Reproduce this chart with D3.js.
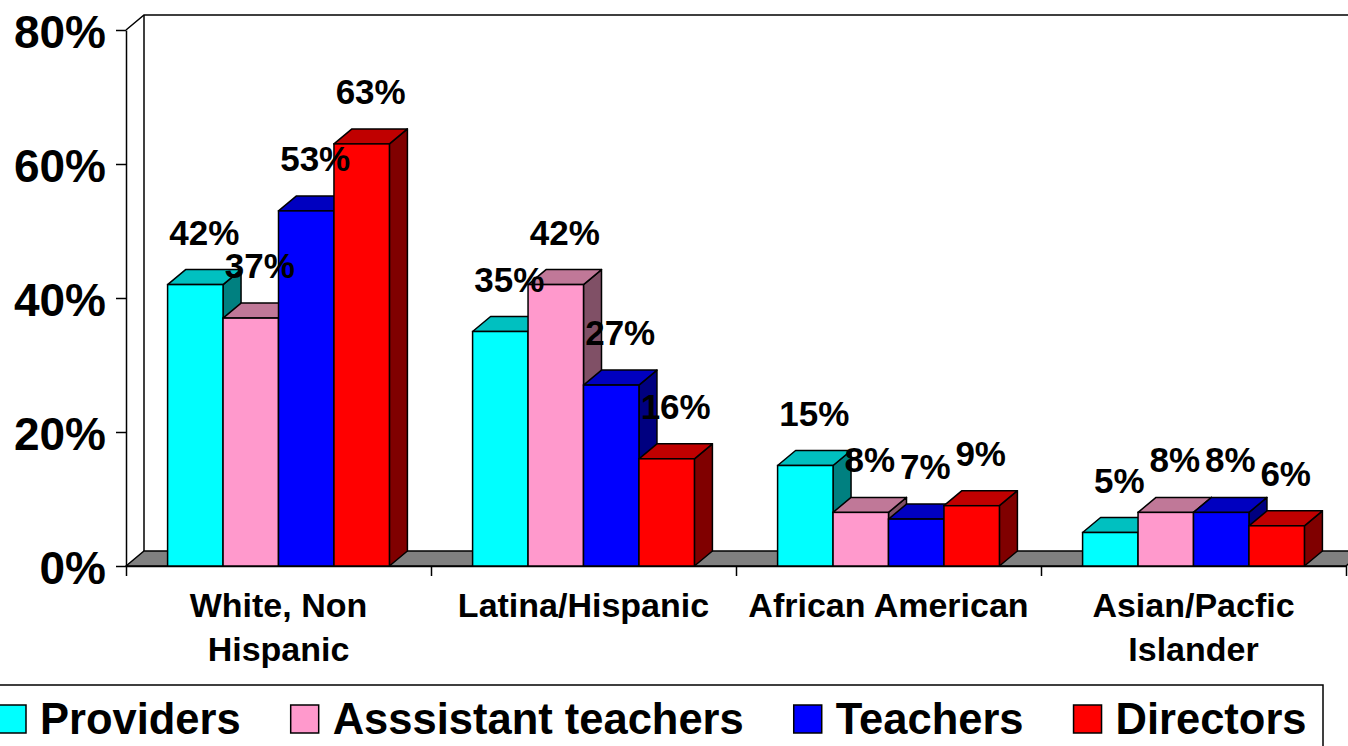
<!DOCTYPE html>
<html><head><meta charset="utf-8">
<script src="https://cdn.jsdelivr.net/npm/d3@7"></script>
<style>
body{margin:0;background:#fff;overflow:hidden}
text{font-family:"Liberation Sans",Arial,sans-serif;font-weight:bold;fill:#000}
</style>
</head><body>
<svg id="c" width="1348" height="746"></svg>
<script>
// ---- data ----
const categories = [["White, Non","Hispanic"],["Latina/Hispanic"],["African American"],["Asian/Pacfic","Islander"]];
const seriesNames = ["Providers","Asssistant teachers","Teachers","Directors"];
const providers  = [42,35,15,5];
const assistants = [37,42,8,8];
const teachers   = [53,27,7,8];
const directors  = [63,16,9,6];
const yTicks = [0,20,40,60,80];

(function(){
const seriesValues = [providers, assistants, teachers, directors];
const faceColors = [
  {front:"#00FFFF", top:"#00C0C0", side:"#008080"},
  {front:"#FF99CC", top:"#C07898", side:"#805066"},
  {front:"#0000FF", top:"#0000C0", side:"#000080"},
  {front:"#FF0000", top:"#C00000", side:"#800000"}
];

const svg = d3.select("#c");
const pL = 126, pR = 1346, pT = 30, pB = 566;
const dx = 18, dy = 15;

const x0 = d3.scaleBand().domain(d3.range(categories.length)).range([pL,pR]).paddingInner(0).paddingOuter(0);
const x1 = d3.scaleBand().domain(d3.range(seriesNames.length)).range([0,x0.bandwidth()]).paddingInner(0).paddingOuter(0.75);
const y = d3.scaleLinear().domain([0,80]).range([pB,pT]);

// back wall edges
svg.append("path")
  .attr("d",`M${pL},${pT}L${pL+dx},${pT-dy}L${pR+dx},${pT-dy}`)
  .attr("fill","none").attr("stroke","#000").attr("stroke-width",1.5);
svg.append("line").attr("x1",pL+dx).attr("x2",pL+dx).attr("y1",pT-dy).attr("y2",pB-dy)
  .attr("stroke","#000").attr("stroke-width",1.5);

// floor
svg.append("path")
  .attr("d",`M${pL},${pB}L${pL+dx},${pB-dy}L${pR+dx},${pB-dy}L${pR},${pB}Z`)
  .attr("fill","#808080").attr("stroke","#000").attr("stroke-width",1.5);

// y axis
const yAxis = svg.append("g").attr("transform",`translate(${pL},0)`)
  .call(d3.axisLeft(y).tickValues(yTicks).tickFormat(d=>d+"%").tickSize(10).tickSizeOuter(0).tickPadding(10));
yAxis.selectAll("path,line").attr("stroke","#000").attr("stroke-width",1.5);
yAxis.selectAll("text").attr("font-size",46).attr("dy","0.37em")
  .style("font-family","'Liberation Sans',Arial,sans-serif").style("font-weight","bold");

// x axis (category boundary ticks)
const xb = d3.scaleLinear().domain([0,categories.length]).range([pL,pR]);
const xAxis = svg.append("g").attr("transform",`translate(0,${pB})`)
  .call(d3.axisBottom(xb).tickValues(d3.range(categories.length+1)).tickFormat("").tickSize(10).tickSizeOuter(0));
xAxis.selectAll("path,line").attr("stroke","#000").attr("stroke-width",1.5);

// bars
const bw = x1.bandwidth();
categories.forEach((c,ci)=>{
  seriesValues.forEach((vals,si)=>{
    const v = vals[ci];
    const x = x0(ci)+x1(si), yt = y(v), yb = y(0);
    const col = faceColors[si];
    const g = svg.append("g");
    g.append("path").attr("d",`M${x+bw},${yt}L${x+bw+dx},${yt-dy}L${x+bw+dx},${yb-dy}L${x+bw},${yb}Z`)
      .attr("fill",col.side).attr("stroke","#000").attr("stroke-width",1.5).attr("stroke-linejoin","round");
    g.append("path").attr("d",`M${x},${yt}L${x+dx},${yt-dy}L${x+bw+dx},${yt-dy}L${x+bw},${yt}Z`)
      .attr("fill",col.top).attr("stroke","#000").attr("stroke-width",1.5).attr("stroke-linejoin","round");
    g.append("rect").attr("x",x).attr("y",yt).attr("width",bw).attr("height",yb-yt)
      .attr("fill",col.front).attr("stroke","#000").attr("stroke-width",1.5);
  });
});

// value labels
categories.forEach((c,ci)=>{
  seriesValues.forEach((vals,si)=>{
    const v = vals[ci];
    svg.append("text")
      .attr("x",x0(ci)+x1(si)+bw/2+dx/2)
      .attr("y",y(v)-40)
      .attr("text-anchor","middle").attr("font-size",35)
      .text(v+"%");
  });
});

// category labels
categories.forEach((lines,ci)=>{
  const t = svg.append("text").attr("text-anchor","middle").attr("font-size",34);
  lines.forEach((ln,li)=>{
    t.append("tspan").attr("x",x0(ci)+x0.bandwidth()/2).attr("y",617+li*44).text(ln);
  });
});

// legend
svg.append("rect").attr("x",-2).attr("y",685).attr("width",1325).attr("height",80)
  .attr("fill","#fff").attr("stroke","#000").attr("stroke-width",1.5);
let lx = -2;
seriesNames.forEach((name,si)=>{
  svg.append("rect").attr("x",lx).attr("y",705).attr("width",28).attr("height",28)
    .attr("fill",faceColors[si].front).attr("stroke","#000").attr("stroke-width",1.5);
  const t = svg.append("text").attr("x",lx+42).attr("y",734).attr("font-size",43.5).text(name);
  lx = lx + 42 + t.node().getComputedTextLength() + 50;
});
})();
</script>
</body></html>
